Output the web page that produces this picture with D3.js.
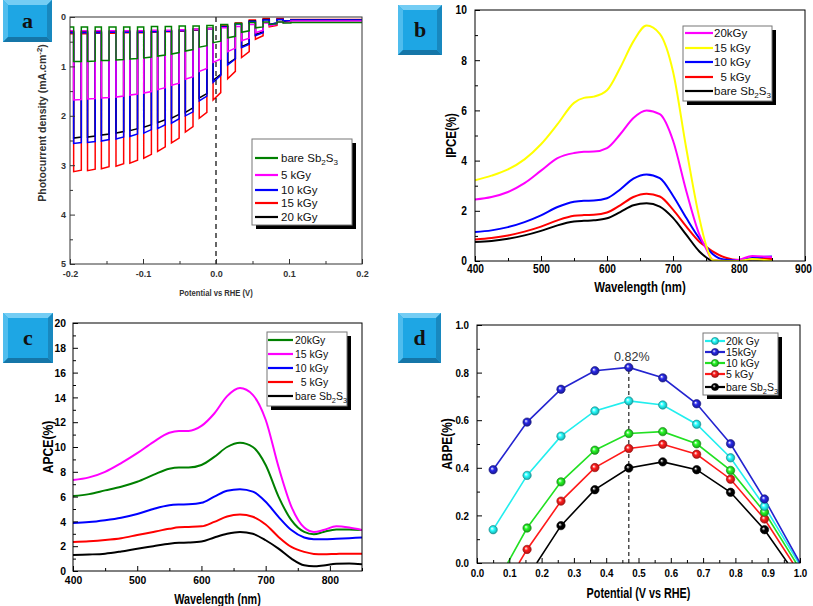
<!DOCTYPE html>
<html><head><meta charset="utf-8">
<script src="https://cdn.jsdelivr.net/npm/d3@7"></script>
<style>body{margin:0;background:#fff}svg{display:block}</style>
</head><body><svg id="c" width="813" height="606"></svg>
<script>
// ---------------- Panel a: chopped photocurrent ----------------
const aPulseOn = [-0.195,-0.176,-0.157,-0.137,-0.118,-0.099,-0.080,-0.061,-0.042,-0.023,-0.004,0.016,0.035,0.054,0.073,0.092];
const aPulseWidth = 0.0105;
const aXTicks = [-0.2,-0.1,0,0.1,0.2];
const aYTicks = [0,1,2,3,4,5];
const aSeries = [
  {name:"15 kGy", color:"#ff0000",
   dark:[0.34,0.34,0.33,0.33,0.32,0.32,0.31,0.30,0.29,0.27,0.24,0.18,0.12,0.06,0.03,0.03], final:0.05,
   light:[[3.13,3.10],[3.11,3.08],[3.07,3.03],[3.02,2.97],[2.96,2.90],[2.86,2.78],[2.72,2.63],[2.55,2.45],[2.33,2.22],[2.05,1.93],[1.68,1.53],[1.25,1.10],[0.82,0.70],[0.45,0.38],[0.20,0.17],[0.10,0.08]]},
  {name:"20 kGy", color:"#000000",
   dark:[0.30,0.30,0.30,0.30,0.30,0.29,0.29,0.28,0.27,0.25,0.23,0.19,0.13,0.08,0.05,0.05], final:0.06,
   light:[[2.45,2.43],[2.43,2.41],[2.39,2.37],[2.35,2.32],[2.30,2.26],[2.23,2.18],[2.14,2.08],[2.05,1.97],[1.93,1.84],[1.64,1.55],[1.28,1.16],[0.95,0.84],[0.60,0.53],[0.36,0.30],[0.15,0.12],[0.08,0.07]]},
  {name:"10 kGy", color:"#0000ff",
   dark:[0.32,0.32,0.32,0.31,0.31,0.31,0.30,0.29,0.28,0.26,0.24,0.20,0.14,0.09,0.06,0.05], final:0.06,
   light:[[2.56,2.54],[2.54,2.52],[2.51,2.48],[2.47,2.43],[2.42,2.37],[2.35,2.28],[2.26,2.18],[2.15,2.06],[2.00,1.92],[1.70,1.60],[1.32,1.18],[0.97,0.85],[0.62,0.55],[0.38,0.32],[0.15,0.12],[0.08,0.07]]},
  {name:"5 kGy", color:"#ff00ff",
   dark:[0.28,0.28,0.28,0.28,0.28,0.28,0.27,0.27,0.26,0.25,0.24,0.22,0.19,0.15,0.12,0.10], final:0.08,
   light:[[1.68,1.67],[1.66,1.65],[1.64,1.63],[1.62,1.60],[1.58,1.56],[1.54,1.51],[1.47,1.43],[1.38,1.34],[1.26,1.21],[1.10,1.04],[0.92,0.85],[0.70,0.63],[0.48,0.43],[0.32,0.27],[0.18,0.15],[0.12,0.10]]},
  {name:"bare Sb2S3", color:"#008000",
   dark:[0.20,0.20,0.20,0.20,0.20,0.20,0.19,0.19,0.18,0.18,0.17,0.15,0.13,0.11,0.10,0.10], final:0.11,
   light:[[0.90,0.90],[0.90,0.89],[0.88,0.88],[0.87,0.86],[0.85,0.84],[0.83,0.81],[0.79,0.77],[0.75,0.72],[0.69,0.66],[0.61,0.58],[0.52,0.49],[0.42,0.39],[0.31,0.28],[0.22,0.20],[0.15,0.14],[0.12,0.12]]}
];
const aLegend = [["bare Sb2S3","#008000"],["5 kGy","#ff00ff"],["10 kGy","#0000ff"],["15 kGy","#ff0000"],["20 kGy","#000000"]];

// ---------------- Panel b: IPCE ----------------
const bNm = [400,425,450,475,500,525,550,565,580,600,620,640,660,680,700,720,740,750,760,780,800,820,850];
const bSeries = [
  {name:"15 kGy", color:"#ffff00", v:[3.22,3.40,3.65,4.05,4.65,5.45,6.30,6.50,6.55,6.80,7.70,8.75,9.38,9.05,7.55,4.50,1.70,0.64,0.04,0.00,0.00,0.08,0.00]},
  {name:"20kGy", color:"#ff00ff", v:[2.45,2.55,2.75,3.10,3.60,4.10,4.30,4.35,4.36,4.50,5.05,5.70,6.00,5.85,4.80,2.80,1.05,0.50,0.05,0.00,0.05,0.20,0.15]},
  {name:"10 kGy", color:"#0000ff", v:[1.16,1.22,1.35,1.55,1.82,2.15,2.36,2.40,2.41,2.50,2.85,3.28,3.45,3.30,2.60,1.72,0.90,0.57,0.28,0.05,0.04,0.12,0.18]},
  {name:"5 kGy", color:"#ff0000", v:[0.86,0.92,1.02,1.17,1.37,1.62,1.80,1.83,1.84,1.93,2.22,2.55,2.68,2.57,2.05,1.38,0.77,0.57,0.38,0.13,0.04,0.08,0.08]},
  {name:"bare Sb2S3", color:"#000000", v:[0.76,0.80,0.89,1.02,1.20,1.42,1.57,1.60,1.62,1.70,1.95,2.22,2.30,2.17,1.72,1.05,0.38,0.15,0.01,0.00,0.03,0.06,0.03]}
];
const bLegend = [["20kGy","#ff00ff"],["15 kGy","#ffff00"],["10 kGy","#0000ff"],["  5 kGy","#ff0000"],["bare Sb2S3","#000000"]];
const bXTicks = [400,500,600,700,800,900];
const bYTicks = [0,2,4,6,8,10];

// ---------------- Panel c: APCE ----------------
const cNm = [400,425,450,475,500,525,550,565,580,600,620,640,660,680,700,720,740,760,775,790,810,830,850];
const cSeries = [
  {name:"bare Sb2S3", color:"#000000", v:[1.29,1.33,1.40,1.58,1.80,2.00,2.20,2.27,2.29,2.37,2.70,3.00,3.15,3.00,2.48,1.80,1.00,0.46,0.38,0.45,0.58,0.60,0.54]},
  {name:"5 kGy", color:"#ff0000", v:[2.34,2.40,2.50,2.65,2.90,3.15,3.40,3.52,3.55,3.60,3.96,4.40,4.55,4.37,3.75,2.75,1.94,1.54,1.38,1.35,1.38,1.40,1.40]},
  {name:"10 kGy", color:"#0000ff", v:[3.88,3.95,4.10,4.30,4.60,5.00,5.30,5.36,5.38,5.50,6.00,6.47,6.60,6.40,5.58,4.37,3.30,2.70,2.57,2.56,2.60,2.65,2.70]},
  {name:"20kGy", color:"#008000", v:[6.04,6.20,6.50,6.80,7.20,7.75,8.25,8.35,8.35,8.55,9.20,10.00,10.35,10.00,8.55,6.00,4.10,3.15,2.96,3.15,3.35,3.35,3.30]},
  {name:"15 kGy", color:"#ff00ff", v:[7.33,7.55,8.00,8.70,9.50,10.40,11.15,11.30,11.30,11.70,12.70,14.10,14.75,14.20,12.20,8.40,5.20,3.50,3.15,3.30,3.60,3.50,3.30]}
];
const cLegend = [["20kGy","#008000"],["15 kGy","#ff00ff"],["10 kGy","#0000ff"],["  5 kGy","#ff0000"],["bare Sb2S3","#000000"]];
const cXTicks = [400,500,600,700,800];
const cYTicks = [0,2,4,6,8,10,12,14,16,18,20];

// ---------------- Panel d: ABPE ----------------
const dPot = [0.05,0.155,0.26,0.365,0.47,0.575,0.68,0.785,0.89];
const dSeries = [
  {name:"bare Sb2S3", color:"#000000", zeroStart:0.185, zeroEnd:0.962, v:[null,null,0.157,0.308,0.399,0.425,0.392,0.297,0.140]},
  {name:"5 kGy", color:"#ff1a1a", zeroStart:0.13, zeroEnd:0.978, v:[null,0.057,0.260,0.401,0.481,0.499,0.457,0.352,0.185]},
  {name:"10 kGy", color:"#22e022", zeroStart:0.095, zeroEnd:0.988, v:[null,0.147,0.341,0.474,0.544,0.552,0.501,0.389,0.214]},
  {name:"20k Gy", color:"#22eeee", zeroStart:null, zeroEnd:0.996, v:[0.140,0.368,0.533,0.639,0.681,0.664,0.583,0.442,0.238]},
  {name:"15kGy", color:"#2424d0", zeroStart:null, zeroEnd:1.0, v:[0.392,0.592,0.730,0.808,0.822,0.778,0.669,0.501,0.269]}
];
const dLegend = [["20k Gy","#22eeee"],["15kGy","#2424d0"],["10 kGy","#22e022"],["5 kGy","#ff1a1a"],["bare Sb2S3","#000000"]];
const dMax = {pot:0.47, val:0.822, label:"0.82%"};
const dXTicks = [0,0.1,0.2,0.3,0.4,0.5,0.6,0.7,0.8,0.9,1.0];
const dYTicks = [0,0.2,0.4,0.6,0.8,1.0];

// ================= drawing =================
const svg = d3.select("#c");
const defs = svg.append("defs");
const FONT = "'Liberation Sans', Arial, sans-serif";
const hy = f => v => f(v).replace("\u2212","-");

function condense(sel, factor){
  if(!factor || factor===1) return;
  sel.each(function(){
    const L = this.getComputedTextLength();
    this.setAttribute("textLength", (L*factor).toFixed(1));
    this.setAttribute("lengthAdjust","spacingAndGlyphs");
  });
}

function labelBox(x,y,w,h,letter){
  const g = svg.append("g").attr("transform",`translate(${x},${y})`);
  const b = 5;
  g.append("rect").attr("width",w).attr("height",h).attr("fill","#1ea6e4");
  g.append("polygon").attr("points",`0,0 ${w},0 ${w-b},${b} ${b},${b}`).attr("fill","#74cdf4");
  g.append("polygon").attr("points",`0,0 ${b},${b} ${b},${h-b} 0,${h}`).attr("fill","#4fbdee");
  g.append("polygon").attr("points",`0,${h} ${b},${h-b} ${w-b},${h-b} ${w},${h}`).attr("fill","#1576a8");
  g.append("polygon").attr("points",`${w},0 ${w},${h} ${w-b},${h-b} ${w-b},${b}`).attr("fill","#1888bf");
  g.append("text").attr("x",w/2).attr("y",h/2+7).attr("text-anchor","middle")
    .attr("font-family","'Liberation Serif','DejaVu Serif',serif").attr("font-weight","bold")
    .attr("font-size",22).attr("fill","#111").text(letter);
}

function frame(o){
  const g = svg.append("g");
  const x = o.x, y = o.y;
  const [x0,x1] = x.range(), [y0,y1] = y.range();
  const top = Math.min(y0,y1), bot = Math.max(y0,y1);
  g.append("g").attr("transform",`translate(0,${bot})`)
    .call(d3.axisBottom(x).tickValues(o.xTicks).tickSize(-5).tickPadding(o.xPad).tickFormat(o.xFmt));
  g.append("g").attr("transform",`translate(0,${bot})`)
    .call(d3.axisBottom(x).tickValues(o.xMinor).tickSize(-3).tickFormat(""));
  g.append("g").attr("transform",`translate(${x0},0)`)
    .call(d3.axisLeft(y).tickValues(o.yTicks).tickSize(-5).tickPadding(o.yPad).tickFormat(o.yFmt));
  g.append("g").attr("transform",`translate(${x0},0)`)
    .call(d3.axisLeft(y).tickValues(o.yMinor).tickSize(-3).tickFormat(""));
  g.selectAll(".domain").remove();
  g.selectAll(".tick line").attr("stroke",o.axisColor||"#000");
  const tt = g.selectAll(".tick text").attr("font-family",FONT).attr("font-weight","bold")
    .attr("font-size",o.tickFont).attr("fill",o.textColor||"#000");
  condense(tt,o.tickCond);
  g.append("rect").attr("x",x0).attr("y",top).attr("width",x1-x0).attr("height",bot-top)
    .attr("fill","none").attr("stroke",o.axisColor||"#000").attr("stroke-width",1);
  const xt = g.append("text").attr("x",(x0+x1)/2).attr("y",o.xTitleY).attr("text-anchor","middle")
    .attr("font-family",FONT).attr("font-weight","bold").attr("font-size",o.titleFont).attr("fill",o.textColor||"#000")
    .text(o.xTitle);
  condense(xt,o.xTitleCond);
  const cy = o.yTitleCenter!==undefined ? o.yTitleCenter : (top+bot)/2;
  const yt = g.append("text").attr("transform",`translate(${o.yTitleX},${cy}) rotate(-90)`)
    .attr("text-anchor","middle").attr("font-family",FONT).attr("font-weight","bold")
    .attr("font-size",o.yTitleFont).attr("fill",o.textColor||"#000");
  if(o.yTitleParts){
    o.yTitleParts.forEach(p=>{
      const t = yt.append("tspan").text(p[0]);
      if(p[1]==="sup") t.attr("dy",-4).attr("font-size",o.yTitleFont*0.75);
      if(p[1]==="back") t.attr("dy",4);
    });
  } else yt.text(o.yTitle);
  condense(yt,o.yTitleCond);
  return g;
}

function legendText(sel, label, fs){
  const m = label.match(/^(.*Sb)2S3$/);
  if(m){
    sel.append("tspan").text(m[1]);
    sel.append("tspan").text("2").attr("dy",3).attr("font-size",fs*0.7);
    sel.append("tspan").text("S").attr("dy",-3);
    sel.append("tspan").text("3").attr("dy",3).attr("font-size",fs*0.7);
  } else sel.text(label);
}

function legend(o){
  const g = svg.append("g");
  g.append("rect").attr("x",o.x+4).attr("y",o.y+4).attr("width",o.w).attr("height",o.h).attr("fill","#000");
  g.append("rect").attr("x",o.x).attr("y",o.y).attr("width",o.w).attr("height",o.h)
    .attr("fill","#fff").attr("stroke","#777").attr("stroke-width",1);
  o.items.forEach((it,i)=>{
    const yy = o.rows[i];
    g.append("line").attr("x1",o.x+o.l0).attr("x2",o.x+o.l1).attr("y1",yy).attr("y2",yy)
      .attr("stroke",it[1]).attr("stroke-width",2.2);
    if(o.marker) ball(g,o.x+(o.l0+o.l1)/2,yy,it[1],3.6);
    const t = g.append("text").attr("x",o.x+o.tx).attr("y",yy+o.fs*0.36)
      .attr("font-family",FONT).attr("font-size",o.fs).attr("fill","#111").style("white-space","pre");
    legendText(t,it[0],o.fs);
  });
}

function gradId(color){
  const id = "g"+color.replace("#","");
  if(defs.select("#"+id).empty()){
    const c = d3.color(color);
    const gr = defs.append("radialGradient").attr("id",id).attr("cx","50%").attr("cy","50%").attr("r","55%").attr("fx","35%").attr("fy","35%");
    gr.append("stop").attr("offset","0%").attr("stop-color","#ffffff");
    gr.append("stop").attr("offset","40%").attr("stop-color",c.brighter(0.3).formatHex());
    gr.append("stop").attr("offset","100%").attr("stop-color",c.darker(1.2).formatHex());
  }
  return id;
}
function ball(g,cx,cy,color,r){
  g.append("circle").attr("cx",cx).attr("cy",cy).attr("r",r)
    .attr("fill",`url(#${gradId(color)})`).attr("stroke",d3.color(color).darker(1.5).formatHex()).attr("stroke-width",0.6);
}

function clip(id,x,y){
  const [x0,x1]=x.range(), [y0,y1]=y.range();
  defs.append("clipPath").attr("id",id).append("rect")
    .attr("x",x0).attr("y",Math.min(y0,y1)).attr("width",x1-x0).attr("height",Math.abs(y1-y0));
}

// ---------- Panel a ----------
{
  const x = d3.scaleLinear().domain([-0.2,0.2]).range([70,362]);
  const y = d3.scaleLinear().domain([0,5]).range([17,264]);
  clip("ca",x,y);
  const pg = svg.append("g").attr("clip-path","url(#ca)");
  const line = d3.line().x(d=>x(d[0])).y(d=>y(d[1]));
  aSeries.forEach(s=>{
    const pts = [[-0.2,s.dark[0]]];
    aPulseOn.forEach((on,k)=>{
      const off = on + aPulseWidth;
      const next = k+1 < aPulseOn.length ? s.dark[k+1] : s.final;
      pts.push([on,s.dark[k]],[on,s.light[k][0]],[off,s.light[k][1]],[off,next]);
    });
    pts.push([0.2,s.final]);
    pg.append("path").attr("d",line(pts)).attr("fill","none").attr("stroke",s.color).attr("stroke-width",1.5);
  });
  pg.append("line").attr("x1",x(0)).attr("x2",x(0)).attr("y1",y(0)).attr("y2",y(5))
    .attr("stroke","#000").attr("stroke-width",1.2).attr("stroke-dasharray","5,4");
  frame({x,y,xTicks:aXTicks,xMinor:[-0.15,-0.05,0.05,0.15],yTicks:aYTicks,yMinor:[0.5,1.5,2.5,3.5,4.5],
    xFmt:hy(d3.format(".1f")),yFmt:d3.format("d"),tickFont:9,xPad:7,yPad:4,textColor:"#333",axisColor:"#333",
    titleFont:9,xTitleCond:0.85,xTitle:"Potential vs RHE (V)",xTitleY:296,
    yTitleX:46,yTitleFont:10.5,yTitleCond:1,yTitleCenter:123,
    yTitleParts:[["Photocurrent density (mA.cm"],["-2","sup"],[")","back"]]});
  legend({x:252,y:139,w:100,h:86,rows:[158,175,190,203,217],l0:3,l1:26,tx:29,fs:11.5,items:aLegend});
}

// ---------- Panel b ----------
{
  const x = d3.scaleLinear().domain([400,900]).range([475,805]);
  const y = d3.scaleLinear().domain([0,10]).range([261,10]);
  clip("cb",x,y);
  const pg = svg.append("g").attr("clip-path","url(#cb)");
  const line = d3.line().x((d,i)=>x(bNm[i])).y(d=>y(d)).curve(d3.curveMonotoneX);
  ["bare Sb2S3","5 kGy","10 kGy","20kGy","15 kGy"].forEach(n=>{
    const s = bSeries.find(q=>q.name===n);
    pg.append("path").attr("d",line(s.v)).attr("fill","none").attr("stroke",s.color).attr("stroke-width",2);
  });
  const fb = frame({x,y,xTicks:bXTicks,xMinor:[450,550,650,750,850],yTicks:bYTicks,yMinor:[1,3,5,7,9],
    xFmt:d3.format("d"),yFmt:d3.format("d"),tickFont:12,tickCond:0.85,xPad:3,yPad:8,
    titleFont:15,xTitleCond:0.76,xTitle:"Wavelength (nm)",xTitleY:292,
    yTitleX:456,yTitleFont:14,yTitleCond:0.82,yTitle:"IPCE(%)"});
  fb.selectAll(".tick text").filter(function(){return this.textContent==="900";}).attr("dx",-2);
  legend({x:683,y:26,w:89,h:75,rows:[33,48,62,77,91],l0:2,l1:30,tx:31,fs:11.5,items:bLegend});
}

// ---------- Panel c ----------
{
  const x = d3.scaleLinear().domain([400,850]).range([73,362]);
  const y = d3.scaleLinear().domain([0,20]).range([571,323]);
  clip("cc",x,y);
  const pg = svg.append("g").attr("clip-path","url(#cc)");
  const line = d3.line().x((d,i)=>x(cNm[i])).y(d=>y(d)).curve(d3.curveMonotoneX);
  cSeries.forEach(s=>{
    pg.append("path").attr("d",line(s.v)).attr("fill","none").attr("stroke",s.color).attr("stroke-width",2);
  });
  frame({x,y,xTicks:cXTicks,xMinor:[450,550,650,750,850],yTicks:cYTicks,yMinor:[1,3,5,7,9,11,13,15,17,19],
    xFmt:d3.format("d"),yFmt:d3.format("d"),tickFont:11.5,tickCond:0.9,xPad:5,yPad:7,
    titleFont:15,xTitleCond:0.72,xTitle:"Wavelength (nm)",xTitleY:604,
    yTitleX:53,yTitleFont:14,yTitleCond:0.87,yTitle:"APCE(%)"});
  legend({x:267,y:332,w:80,h:74,rows:[340,354,368,382,396],l0:1,l1:26,tx:28,fs:10.5,items:cLegend});
}

// ---------- Panel d ----------
{
  const x = d3.scaleLinear().domain([0,1]).range([477,800]);
  const y = d3.scaleLinear().domain([0,1]).range([563,325]);
  clip("cd",x,y);
  const pg = svg.append("g").attr("clip-path","url(#cd)");
  const line = d3.line().x(d=>x(d[0])).y(d=>y(d[1]));
  pg.append("line").attr("x1",x(dMax.pot)).attr("x2",x(dMax.pot)).attr("y1",y(0)).attr("y2",y(dMax.val))
    .attr("stroke","#222").attr("stroke-width",1.2).attr("stroke-dasharray","4,3");
  dSeries.forEach(s=>{
    const pts = [];
    if(s.zeroStart!==null) pts.push([s.zeroStart,0]);
    dPot.forEach((p,i)=>{ if(s.v[i]!==null) pts.push([p,s.v[i]]); });
    pts.push([s.zeroEnd,0]);
    pg.append("path").attr("d",line(pts)).attr("fill","none").attr("stroke",s.color).attr("stroke-width",1.6);
  });
  dSeries.forEach(s=>{
    dPot.forEach((p,i)=>{ if(s.v[i]!==null) ball(pg,x(p),y(s.v[i]),s.color,4.2); });
  });
  svg.append("text").attr("x",x(dMax.pot)+3).attr("y",y(dMax.val)-6).attr("text-anchor","middle")
    .attr("font-family",FONT).attr("font-size",12.5).attr("fill","#333").text(dMax.label);
  frame({x,y,xTicks:dXTicks,xMinor:[0.05,0.15,0.25,0.35,0.45,0.55,0.65,0.75,0.85,0.95],yTicks:dYTicks,yMinor:[0.1,0.3,0.5,0.7,0.9],
    xFmt:d3.format(".1f"),yFmt:d3.format(".1f"),tickFont:11.5,tickCond:0.85,xPad:6,yPad:8,
    titleFont:15,xTitleCond:0.72,xTitle:"Potential (V vs RHE)",xTitleY:598,
    yTitleX:452,yTitleFont:14,yTitleCond:0.85,yTitle:"ABPE(%)"});
  legend({x:703,y:333,w:75,h:62,rows:[341,352,363,374,387],l0:2,l1:22,tx:23,fs:10.5,items:dLegend,marker:true});
}

labelBox(3,0,49,42,"a");
labelBox(398,5,44,50,"b");
labelBox(3,313,50,50,"c");
labelBox(398,313,43,50,"d");
</script></body></html>
